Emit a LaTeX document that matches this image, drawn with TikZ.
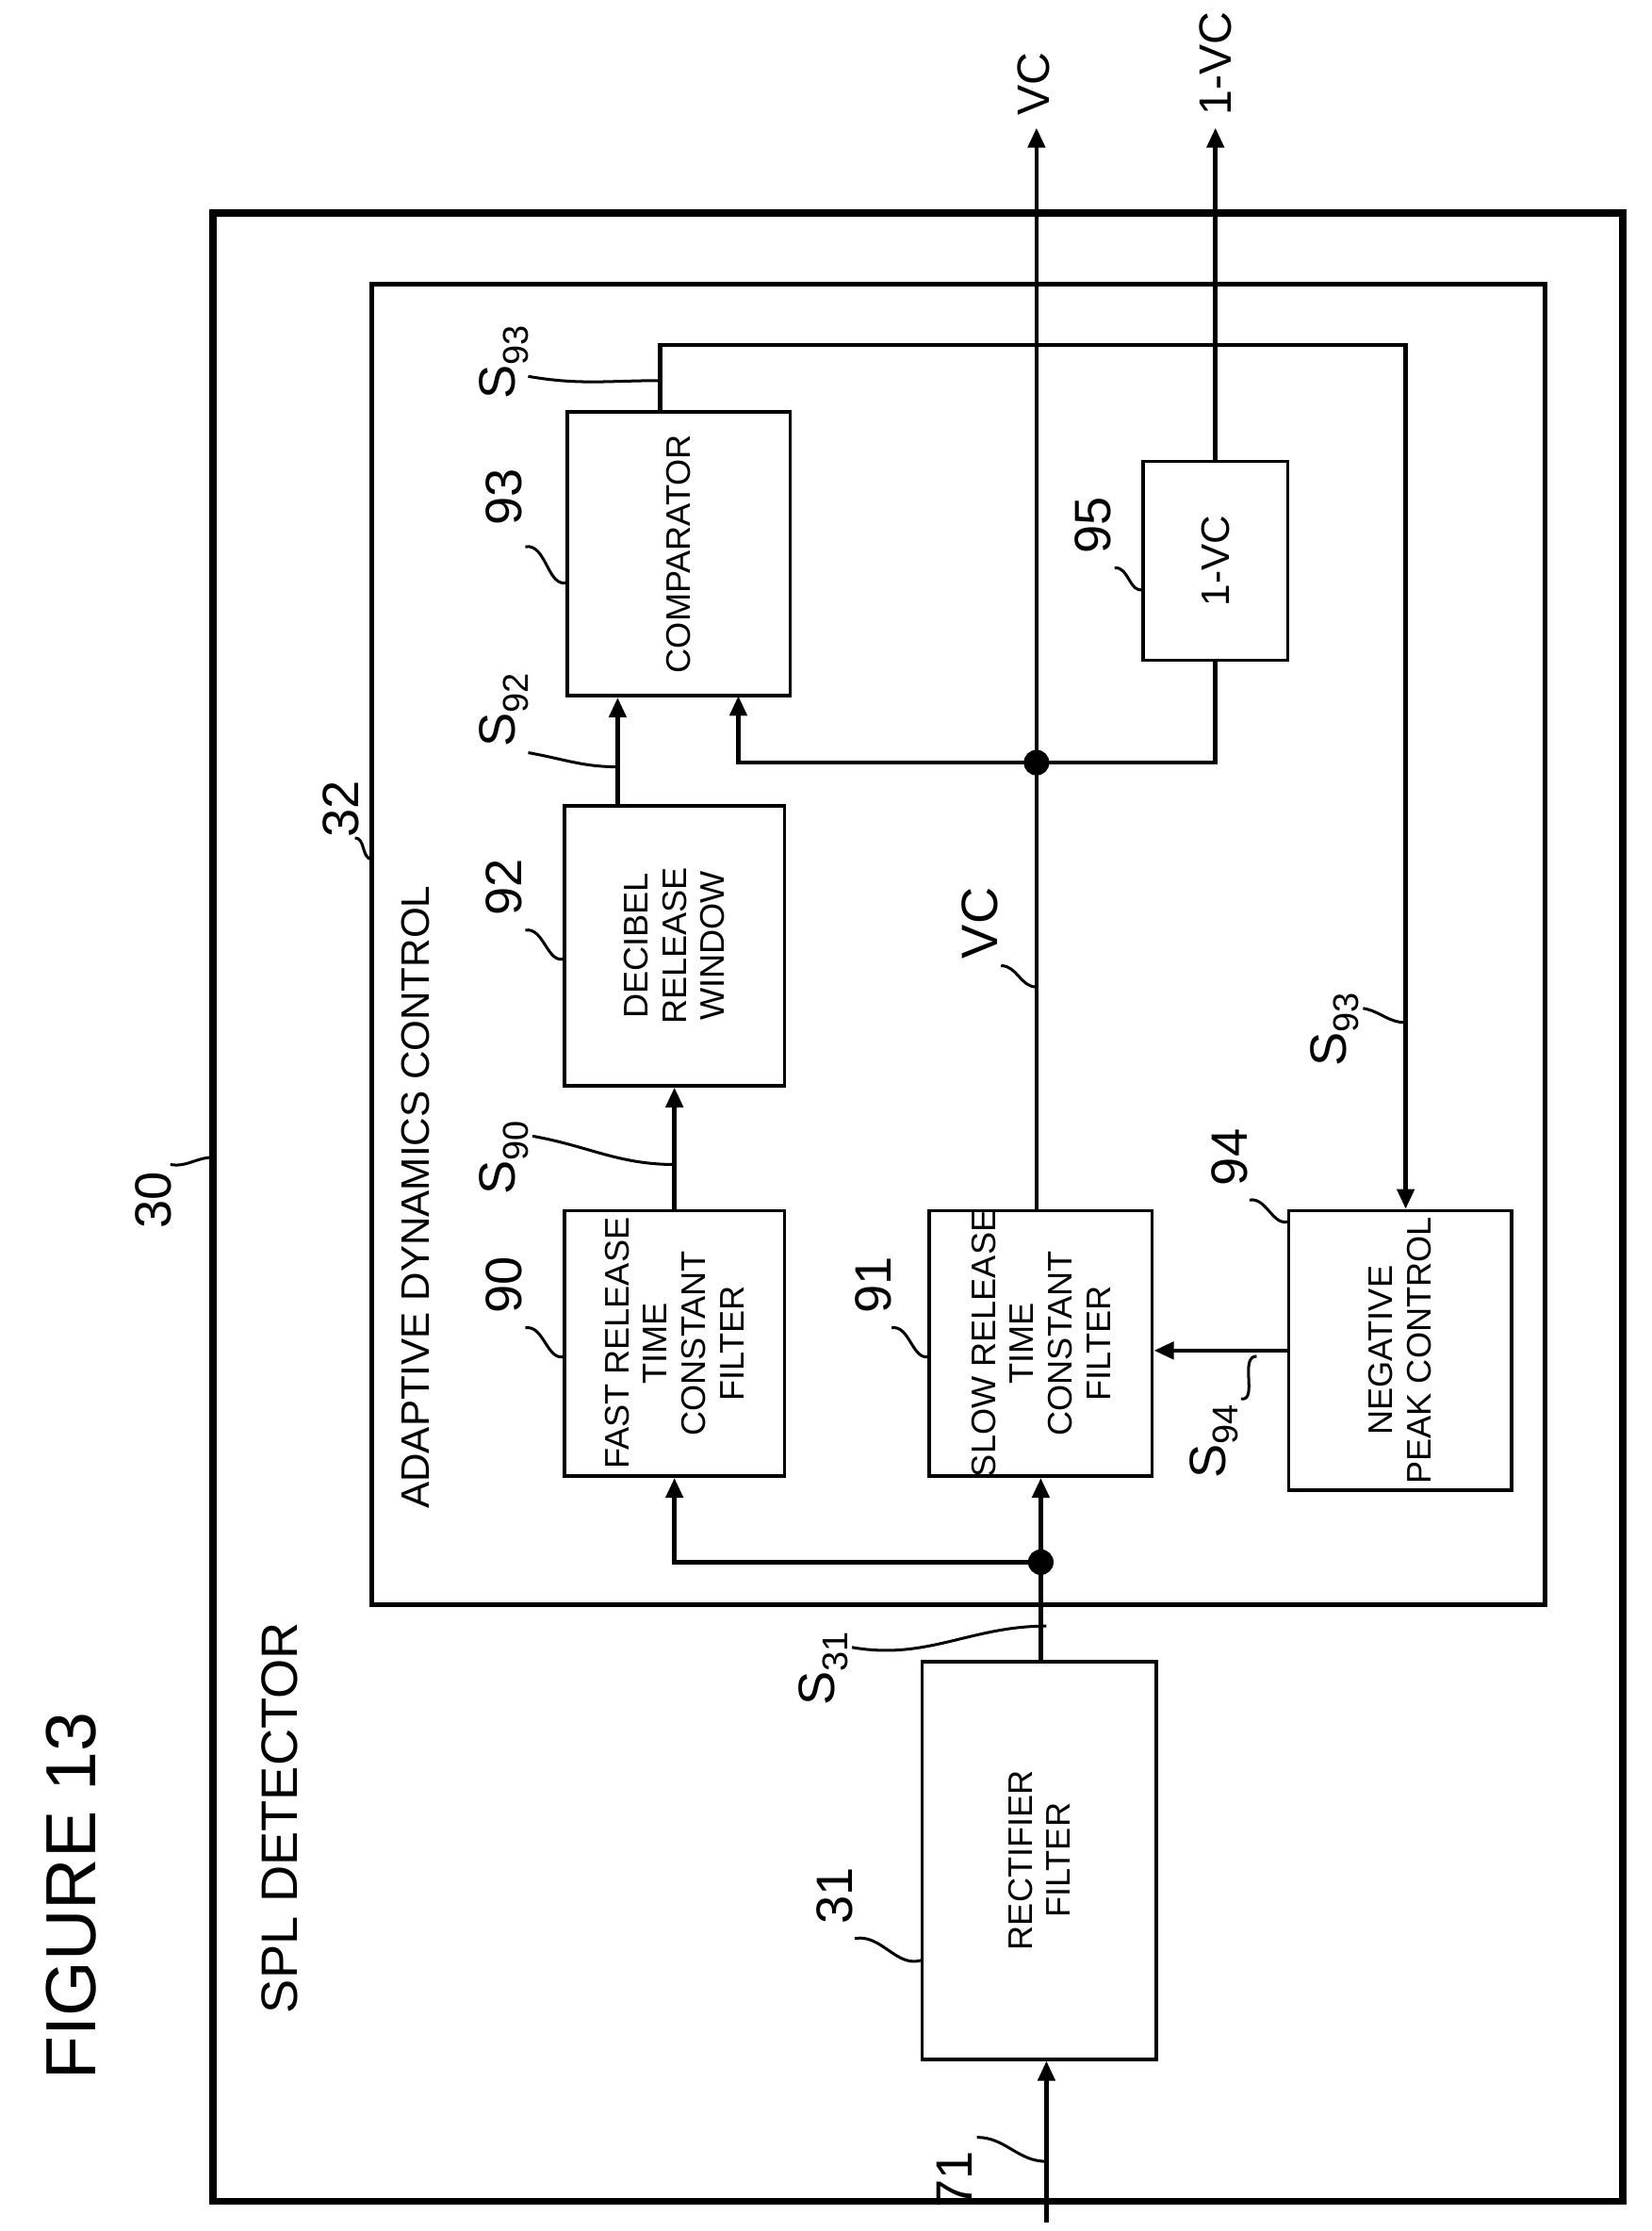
\documentclass[tikz,border=0pt]{standalone}
\usepackage{fontspec}
\setmainfont{Liberation Sans}
\usetikzlibrary{arrows.meta}
\begin{document}
\begin{tikzpicture}[x=1pt,y=-1pt,
  blk/.style={draw,line width=2.4pt,inner sep=0pt},
  txt/.style={rotate=90,align=center,font=\fontsize{24}{27}\selectfont},
  num/.style={rotate=90,font=\fontsize{36}{40}\selectfont},
  w/.style={line width=3pt},
  arr/.style={w,-{Triangle[length=14pt,width=12pt]}},
  lead/.style={line width=2pt},
  dot/.style={circle,fill,inner sep=0pt,minimum size=18pt}]
\useasboundingbox (0,0) rectangle (1163,1571);
% boxes
\draw[line width=5pt] (150,150) rectangle (1143,1550);
\draw[line width=3.2pt] (262,200) rectangle (1088,1130);
\node[blk,minimum width=165pt,minimum height=280pt] (b31) at (732,1310) {};
\node[blk,minimum width=155pt,minimum height=187pt] (b90) at (475,946) {};
\node[blk,minimum width=157pt,minimum height=187pt] (b91) at (733,946) {};
\node[blk,minimum width=157pt,minimum height=197pt] (b94) at (986,951) {};
\node[blk,minimum width=155pt,minimum height=197pt] (b92) at (475,666) {};
\node[blk,minimum width=157pt,minimum height=200pt] (b93) at (478,390) {};
\node[blk,minimum width=102pt,minimum height=140pt] (b95) at (856,395) {};
\node[txt] at (b31) {RECTIFIER\\FILTER};
\node[txt] at (b90) {FAST RELEASE\\TIME\\CONSTANT\\FILTER};
\node[txt] at (b91) {SLOW RELEASE\\TIME\\CONSTANT\\FILTER};
\node[txt] at (b94) {NEGATIVE\\PEAK CONTROL};
\node[txt] at (b92) {DECIBEL\\RELEASE\\WINDOW};
\node[txt] at (b93) {COMPARATOR};
\node[txt,font=\fontsize{28}{30}\selectfont] at (b95) {1-VC};
% titles
\node[rotate=90,font=\fontsize{50}{54}\selectfont] (fig) at (50,1335) {FIGURE 13};
\node[rotate=90,font=\fontsize{36}{40}\selectfont] (spl) at (197,1280) {SPL DETECTOR};
\node[rotate=90,font=\fontsize{28}{32}\selectfont] (adc) at (293,843) {ADAPTIVE DYNAMICS CONTROL};
% coordinates
\coordinate (in) at (737,1565);
\coordinate (d1) at (733,1100);
\coordinate (d2) at (730,537);
\coordinate (vctop) at (730,90);
\coordinate (ivctop) at (856,90);
% connectors
\draw[arr] (in) -- (b31.south -| in);
\draw[w] (b31.north -| d1) -- (d1);
\draw[arr] (d1) -- (b91.south);
\draw[arr] (d1) -| (b90.south);
\draw[arr] (b90.north) -- (b92.south);
\draw[arr] (b92.north -| 435,0) -- (b93.south -| 435,0);
\draw[w] (b91.north -| d2) -- (d2);
\draw[arr] (d2) -- (vctop);
\draw[arr] (d2) -| (520,490);
\draw[w] (d2) -| (b95.south);
\draw[arr] (b95.north) -- (ivctop);
\draw[arr] (465,290) |- (990,243) -- (b94.north -| 990,0);
\draw[arr] (b94.west |- 0,951) -- (b91.east |- 0,951);
\node[dot] at (d1) {};
\node[dot] at (d2) {};
\node[num,anchor=west,font=\fontsize{32}{36}\selectfont] (lvc) at (728,85) {VC};
\node[num,anchor=west,font=\fontsize{32}{36}\selectfont] (livc) at (856,85) {1-VC};
% number labels with leaders
\node[num] (n30) at (108,845) {30};
\draw[lead] (120,820) to[out=-10,in=180] (150,815);
\node[num] (n32) at (240,570) {32};
\draw[lead] (250,590) to[out=0,in=180] (262,605);
\node[num] (n90) at (355,905) {90};
\draw[lead] (370,935) to[out=10,in=200] (398,955);
\node[num] (n91) at (615,905) {91};
\draw[lead] (628,935) to[out=10,in=200] (655,955);
\node[num] (n92) at (355,625) {92};
\draw[lead] (370,655) to[out=10,in=200] (398,675);
\node[num] (n93) at (355,350) {93};
\draw[lead] (370,385) to[out=10,in=200] (400,410);
\node[num] (n94) at (866,815) {94};
\draw[lead] (880,845) to[out=10,in=200] (908,860);
\node[num] (n95) at (770,370) {95};
\draw[lead] (785,400) to[out=10,in=200] (805,415);
\node[num] (n31) at (588,1335) {31};
\draw[lead] (602,1365) to[out=10,in=200] (650,1380);
\node[num] (n71) at (672,1535) {71};
\draw[lead] (688,1505) to[out=0,in=180] (737,1522);
% signal labels
\node[num] (s93a) at (355,255) {S\textsubscript{93}};
\draw[lead] (372,265) to[out=-10,in=180] (465,268);
\node[num] (s92) at (355,500) {S\textsubscript{92}};
\draw[lead] (372,530) to[out=-10,in=180] (435,540);
\node[num] (s90) at (355,815) {S\textsubscript{90}};
\draw[lead] (375,800) to[out=-10,in=180] (475,820);
\node[num] (vcl) at (690,650) {VC};
\draw[lead] (705,680) to[out=0,in=180] (730,695);
\node[num] (s93b) at (940,725) {S\textsubscript{93}};
\draw[lead] (960,710) to[out=-10,in=180] (990,720);
\node[num] (s94) at (855,1015) {S\textsubscript{94}};
\draw[lead] (874,985) to[out=-10,in=180] (885,955);
\node[num] (s31) at (580,1175) {S\textsubscript{31}};
\draw[lead] (600,1160) to[out=-10,in=180] (737,1145);
\end{tikzpicture}
\end{document}
